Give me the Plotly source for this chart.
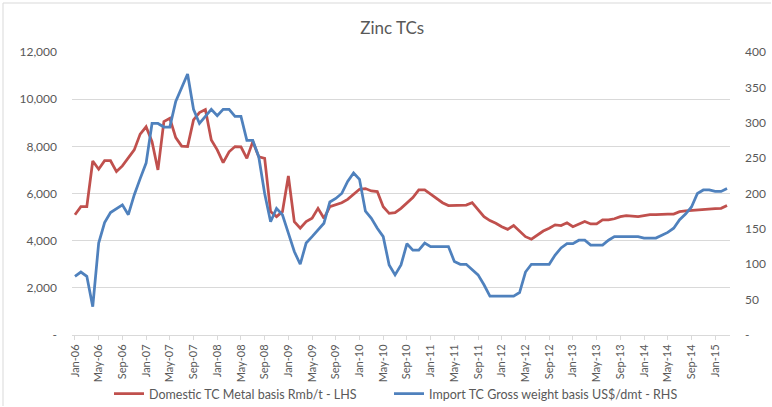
import pandas as pd
import plotly.graph_objects as go

# Monthly categories Jan-06 .. Mar-15
months = [d.strftime("%b-%y") for d in pd.date_range("2006-01-01", periods=111, freq="MS")]

domestic_tc = [
    5100, 5440, 5440, 7380, 7030, 7390, 7390, 6930, 7170, 7520,
    7850, 8520, 8830, 8200, 7000, 9050, 9190, 8370, 8010, 7990,
    9120, 9430, 9560, 8270, 7850, 7310, 7770, 7990, 7980, 7490,
    8200, 7560, 7490, 5230, 5020, 5230, 6740, 4810, 4530, 4810,
    4950, 5370, 4950, 5440, 5510, 5610, 5750, 5970, 6180, 6210,
    6110, 6080, 5440, 5160, 5190, 5370, 5610, 5830, 6150, 6150,
    5970, 5770, 5610, 5490, 5490, 5490, 5510, 5610, 5300, 5020,
    4850, 4740, 4590, 4480, 4640, 4420, 4170, 4060, 4240, 4410,
    4530, 4670, 4640, 4760, 4590, 4690, 4810, 4710, 4710, 4880,
    4880, 4930, 5020, 5060, 5050, 5020, 5060, 5100, 5100, 5130,
    5130, 5130, 5230, 5260, 5280, 5330, 5330, 5340, 5360, 5370,
    5490,
]

import_tc = [
    83, 89, 83, 40, 130, 159, 173, 179, 184, 170,
    198, 221, 243, 299, 299, 294, 294, 330, 350, 369,
    319, 299, 309, 319, 310, 319, 319, 309, 309, 275,
    275, 252, 200, 160, 179, 170, 144, 118, 100, 130,
    139, 148, 158, 188, 193, 200, 217, 229, 220, 175,
    165, 151, 139, 99, 85, 99, 129, 120, 120, 130,
    125, 125, 125, 125, 104, 100, 100, 93, 85, 71,
    55, 55, 55, 55, 55, 60, 89, 100, 100, 100,
    100, 113, 123, 129, 129, 134, 134, 127, 127, 127,
    134, 139, 139, 139, 139, 139, 137, 137, 137, 141,
    145, 151, 163, 171, 181, 200, 205, 205, 203, 203,
    207,
]

left_ticks = [0, 2000, 4000, 6000, 8000, 10000, 12000]
left_labels = ["-", "2,000", "4,000", "6,000", "8,000", "10,000", "12,000"]
right_ticks = [0, 50, 100, 150, 200, 250, 300, 350, 400]
right_labels = ["-", "50", "100", "150", "200", "250", "300", "350", "400"]
x_tick_labels = months[::4]

RED = "#C0504D"
BLUE = "#4F81BD"
GREY = "#595959"
GRID = "#D9D9D9"
FONT = "Lato, 'Open Sans', sans-serif"

fig = go.Figure()
fig.add_trace(go.Scatter(
    x=months, y=domestic_tc, mode="lines", name="Domestic TC Metal basis Rmb/t - LHS",
    line=dict(color=RED, width=2.75), yaxis="y", legend="legend",
))
fig.add_trace(go.Scatter(
    x=months, y=import_tc, mode="lines", name="Import TC Gross weight basis US$/dmt - RHS",
    line=dict(color=BLUE, width=2.75), yaxis="y2", legend="legend2",
))

W, H = 772, 407
L, R, T, B = 72, 42, 52, 72
pw, ph = W - L - R, H - T - B

def px_x(x):
    return (x - L) / pw

def px_y(y):
    return (H - B - y) / ph

legend_common = dict(
    orientation="h", xref="container", yref="container",
    yanchor="middle", y=1 - 394 / H, xanchor="left",
    font=dict(size=12.5, color=GREY), itemwidth=30, bgcolor="rgba(0,0,0,0)",
)

fig.update_layout(
    width=W, height=H,
    margin=dict(l=L, r=R, t=T, b=B),
    paper_bgcolor="white", plot_bgcolor="white",
    font=dict(family=FONT, color=GREY, size=12),
    title=dict(text="Zinc TCs", x=0.508, xanchor="center", y=1 - 28 / H, yanchor="middle",
               font=dict(size=17, color=GREY, family=FONT)),
    xaxis=dict(
        type="category", categoryorder="array", categoryarray=months,
        range=[-0.5, len(months) - 0.5],
        tickmode="array", tickvals=x_tick_labels, ticktext=x_tick_labels,
        tickangle=-90, tickfont=dict(size=11, color=GREY),
        showgrid=False, showline=True, linecolor=GRID, linewidth=1,
        ticks="outside", ticklen=4, tickcolor=GRID, zeroline=False, automargin=False,
    ),
    yaxis=dict(
        range=[0, 12000], tickmode="array", tickvals=left_ticks, ticktext=left_labels,
        showgrid=True, gridcolor=GRID, gridwidth=1, zeroline=False, showline=False,
        tickfont=dict(size=12, color=GREY), ticks="", ticklabelstandoff=14, automargin=False,
    ),
    yaxis2=dict(
        range=[0, 400], overlaying="y", side="right",
        tickmode="array", tickvals=right_ticks, ticktext=right_labels,
        showgrid=False, zeroline=False, showline=False,
        tickfont=dict(size=12, color=GREY), ticks="", ticklabelstandoff=14, automargin=False,
    ),
    legend=dict(x=109 / W, **legend_common),
    legend2=dict(x=389 / W, **legend_common),
    showlegend=True,
    shapes=[
        dict(type="line", xref="paper", yref="paper", x0=px_x(3), x1=px_x(771), y0=px_y(3), y1=px_y(3),
             line=dict(color=GRID, width=1)),
        dict(type="line", xref="paper", yref="paper", x0=px_x(3), x1=px_x(3), y0=px_y(3), y1=px_y(406),
             line=dict(color=GRID, width=1)),
    ],
)

fig.write_html(
    "out.html",
    config={"displayModeBar": False},
    post_script="document.body.style.margin='0';document.body.style.overflow='hidden';",
)
